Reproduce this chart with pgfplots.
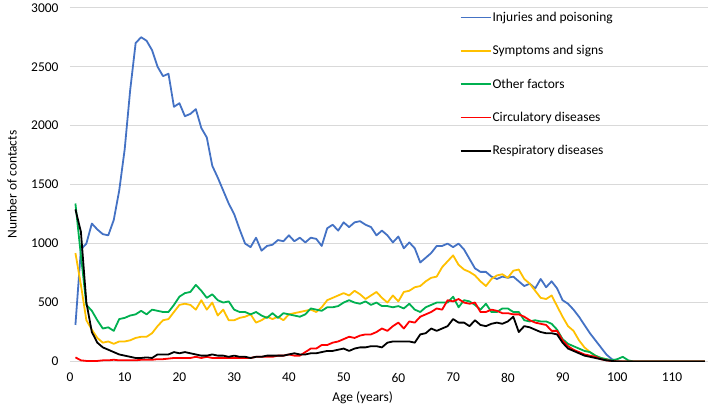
\documentclass[border=0pt]{standalone}
\usepackage{fontspec}
\setmainfont{Carlito}
\usepackage{pgfplots}
\usepackage{pgfplotstable}
\pgfplotsset{compat=1.18}
\definecolor{cinj}{HTML}{4472C4}
\definecolor{csym}{HTML}{FFC000}
\definecolor{coth}{HTML}{00B050}
\definecolor{ccir}{HTML}{FF0000}
\definecolor{cres}{HTML}{000000}
\definecolor{cgrid}{HTML}{D9D9D9}

\pgfplotstableread{
age inj sym oth cir res
1 310 920 1340 35 1290
2 950 650 900 10 1100
3 1000 350 480 5 500
4 1170 270 430 5 250
5 1120 200 350 5 160
6 1080 160 280 10 120
7 1070 170 290 10 100
8 1200 150 260 15 80
9 1450 170 360 10 60
10 1800 170 370 10 50
11 2300 180 390 10 40
12 2700 200 400 10 30
13 2750 210 430 15 30
14 2720 210 400 15 35
15 2640 240 440 15 30
16 2500 300 430 20 60
17 2420 350 420 20 60
18 2440 360 420 25 60
19 2160 420 480 30 80
20 2190 480 550 30 70
21 2080 490 580 30 80
22 2100 480 590 30 70
23 2140 440 650 40 60
24 1980 520 600 30 50
25 1900 440 540 40 50
26 1660 500 570 30 60
27 1560 390 520 30 50
28 1450 440 500 30 50
29 1340 350 510 30 40
30 1250 350 440 30 50
31 1120 370 420 30 40
32 1000 380 420 30 40
33 970 400 400 30 30
34 1050 330 420 40 40
35 940 350 390 40 40
36 980 380 370 40 50
37 990 360 410 40 50
38 1030 380 370 50 50
39 1020 350 410 50 50
40 1070 400 400 60 60
41 1020 410 390 50 70
42 1050 420 380 50 60
43 1010 430 400 80 60
44 1050 440 450 110 70
45 1040 420 440 110 70
46 980 460 430 140 80
47 1130 520 460 140 90
48 1160 540 460 160 90
49 1110 560 470 170 100
50 1180 580 500 190 110
51 1140 560 520 210 90
52 1180 600 500 200 110
53 1190 570 490 220 120
54 1160 530 510 230 120
55 1140 560 480 230 130
56 1070 590 500 250 130
57 1110 540 470 280 120
58 1070 500 470 260 160
59 1010 560 460 300 170
60 1060 510 470 330 170
61 960 590 450 280 170
62 1010 600 490 340 170
63 960 630 440 330 160
64 840 640 420 380 230
65 880 680 460 400 240
66 920 710 480 420 280
67 980 720 500 450 260
68 980 800 500 440 280
69 1000 850 500 520 300
70 970 900 550 510 360
71 1000 820 460 530 330
72 950 780 520 500 330
73 870 760 510 490 300
74 790 730 480 500 350
75 760 680 440 420 310
76 760 640 490 420 300
77 720 700 420 440 320
78 700 730 420 430 330
79 720 740 450 410 320
80 710 710 450 410 340
81 720 770 420 400 380
82 680 780 420 400 250
83 640 700 350 380 300
84 660 660 340 350 290
85 620 600 350 330 270
86 700 540 340 320 250
87 630 530 340 310 240
88 680 560 320 260 240
89 620 470 270 260 230
90 520 380 190 180 160
91 490 300 150 130 110
92 440 260 130 100 90
93 380 180 110 80 70
94 310 120 90 60 50
95 240 80 80 50 40
96 180 50 50 40 30
97 120 30 30 20 20
98 60 20 20 10 10
99 20 5 10 5 5
100 5 0 20 0 0
101 0 0 40 0 0
102 0 0 10 0 0
103 0 0 0 0 0
104 0 0 0 0 0
105 0 0 0 0 0
106 0 0 0 0 0
107 0 0 0 0 0
108 0 0 0 0 0
109 0 0 0 0 0
110 0 0 0 0 0
111 0 0 0 0 0
112 0 0 0 0 0
113 0 0 0 0 0
114 0 0 0 0 0
115 0 0 0 0 0
116 0 0 0 0 0
}\contacts

\begin{document}
\begin{tikzpicture}
\begin{axis}[
  name=ax,
  scale only axis,
  width=638bp, height=354bp,
  xmin=0, xmax=116.5,
  ymin=0, ymax=3000,
  xtick={0,10,...,110},
  ytick={0,500,...,3000},
  ymajorgrids, grid style={cgrid,line width=0.8bp},
  axis line style={draw=none},
  axis x line*=bottom, axis y line*=left,
  tick style={draw=none},
  ticklabel style={font=\fontsize{13.5}{16}\selectfont},
  xticklabel style={yshift=-8bp},
  yticklabel style={xshift=-8bp},
  /pgf/number format/assume math mode=true,
  /pgf/number format/1000 sep={},
  xlabel={Age (years)},
  ylabel={Number of contacts},
  label style={font=\fontsize{13.5}{16}\selectfont},
  xlabel style={at={(axis description cs:0.459,0)},anchor=center,yshift=-36bp},
  ylabel style={at={(axis description cs:0,0.5)},anchor=center,yshift=58bp},
  every axis plot/.append style={line width=1.8bp,line join=round,no marks},
  legend style={draw=none,fill=none,at={(0.611,0.991)},anchor=north west,
    font=\fontsize{13.5}{16}\selectfont,row sep=20.5bp,inner sep=0pt,
    nodes={inner sep=1bp}},
  legend cell align=left,
  legend image code/.code={\draw[#1,line width=1.8bp] (0bp,0bp) -- (30bp,0bp);},
]
\addplot[color=cinj] table[x=age,y=inj] {\contacts};
\addlegendentry{Injuries and poisoning}
\addplot[color=csym] table[x=age,y=sym] {\contacts};
\addlegendentry{Symptoms and signs}
\addplot[color=coth] table[x=age,y=oth] {\contacts};
\addlegendentry{Other factors}
\addplot[color=ccir] table[x=age,y=cir] {\contacts};
\addlegendentry{Circulatory diseases}
\addplot[color=cres] table[x=age,y=res] {\contacts};
\addlegendentry{Respiratory diseases}
\end{axis}
\path (ax.south west) ++(-70bp,-49.3bp) coordinate (bl);
\path (ax.north east) ++(0bp,4.7bp) coordinate (tr);
\useasboundingbox (bl) rectangle (tr);
\end{tikzpicture}
\end{document}
